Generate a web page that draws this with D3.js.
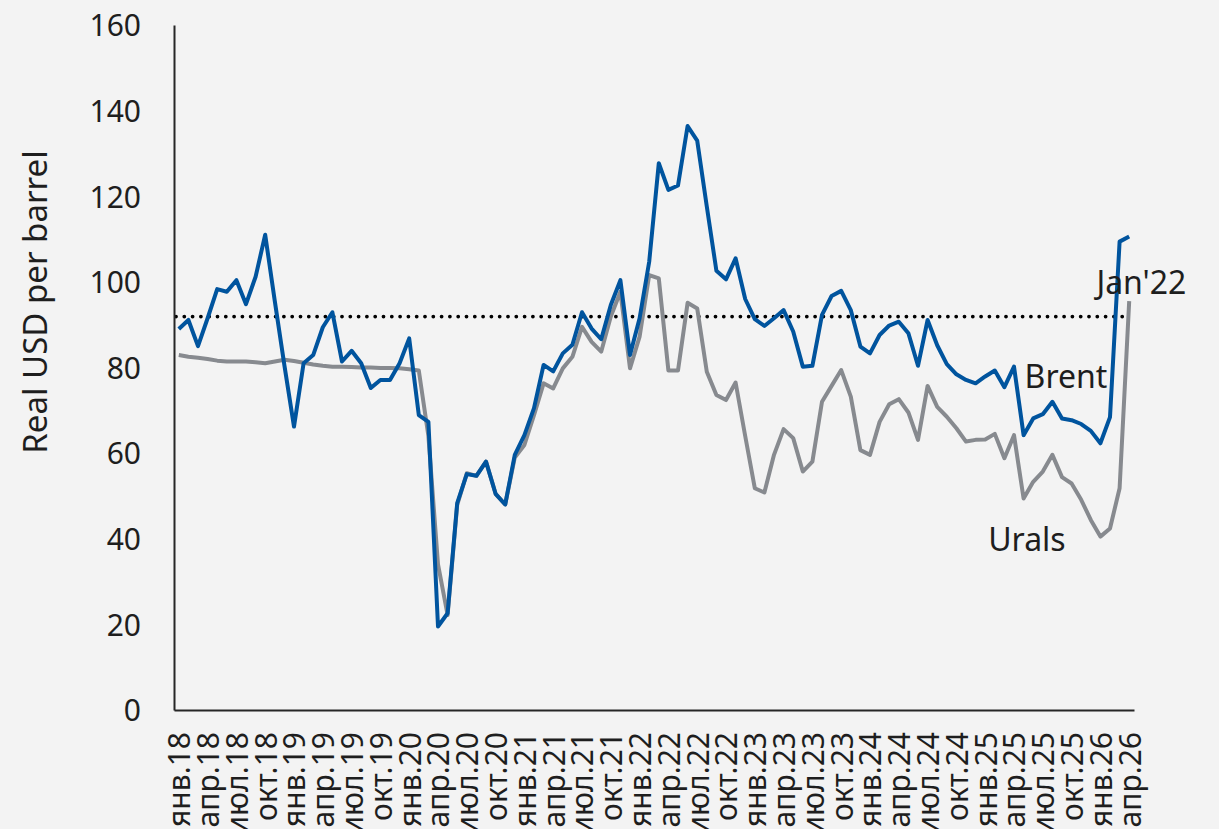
<!DOCTYPE html>
<html>
<head>
<meta charset="utf-8">
<title>Brent vs Urals</title>
<script src="https://cdn.jsdelivr.net/npm/d3@7"></script>
<style>
  body { margin: 0; background: #f3f3f3; }
  svg { display: block; background: #f3f3f3; }
  text { font-family: "Noto Sans", "Open Sans", sans-serif; fill: #1e1e1e; }
</style>
</head>
<body>
<script>
// monthly, янв.18 .. апр.26
var tickLabels = ["янв.18","апр.18","июл.18","окт.18","янв.19","апр.19","июл.19","окт.19",
  "янв.20","апр.20","июл.20","окт.20","янв.21","апр.21","июл.21","окт.21",
  "янв.22","апр.22","июл.22","окт.22","янв.23","апр.23","июл.23","окт.23",
  "янв.24","апр.24","июл.24","окт.24","янв.25","апр.25","июл.25","окт.25",
  "янв.26","апр.26"];

var brent = [89.0, 91.1, 85.0, 91.5, 98.3, 97.7, 100.4, 94.8, 101.2, 111.0,
  95.5, 80.5, 66.2, 81.0, 82.9, 89.4, 92.9, 81.4, 83.9, 81.0,
  75.2, 77.1, 77.1, 81.0, 86.8, 68.9, 67.3, 19.5, 22.6, 48.3,
  55.1, 54.7, 58.0, 50.5, 48.0, 59.6, 64.2, 70.5, 80.6, 79.1,
  83.3, 85.3, 92.9, 89.1, 86.6, 94.6, 100.4, 82.9, 91.5, 104.7,
  127.7, 121.5, 122.5, 136.4, 133.0, 117.6, 102.6, 100.6, 105.5, 96.0,
  91.3, 89.7, 91.5, 93.4, 88.4, 80.2, 80.4, 92.3, 96.7, 97.9,
  93.4, 84.9, 83.3, 87.6, 89.8, 90.7, 88.0, 80.4, 91.1, 85.2,
  80.8, 78.4, 77.1, 76.3, 77.9, 79.3, 75.4, 80.2, 64.2, 68.1,
  69.1, 72.0, 68.1, 67.7, 66.8, 65.2, 62.3, 68.4, 109.4, 110.6];

var urals = [82.9, 82.5, 82.3, 82.0, 81.6, 81.4, 81.4, 81.4, 81.2, 81.0,
  81.4, 81.8, 81.5, 81.1, 80.7, 80.4, 80.2, 80.2, 80.1, 80.0,
  80.0, 79.9, 79.9, 79.8, 79.6, 79.3, 64.0, 34.0, 22.2, 47.9,
  55.3, 54.7, 58.0, 50.5, 48.0, 59.0, 61.9, 68.9, 76.3, 75.1,
  79.8, 82.5, 89.5, 86.0, 83.7, 91.9, 97.7, 79.8, 87.2, 101.6,
  100.8, 79.3, 79.3, 95.1, 93.8, 79.0, 73.6, 72.4, 76.5, 64.0,
  51.8, 50.8, 59.6, 65.6, 63.5, 55.7, 58.0, 72.0, 75.7, 79.4,
  73.2, 60.7, 59.6, 67.3, 71.4, 72.6, 69.5, 63.1, 75.7, 70.8,
  68.5, 65.8, 62.7, 63.1, 63.2, 64.5, 58.8, 64.2, 49.4, 53.3,
  55.7, 59.6, 54.4, 52.9, 49.1, 44.4, 40.5, 42.4, 51.8, 95.5];

var jan22 = 91.9;   // reference level (dotted)
var yTicks = [0, 20, 40, 60, 80, 100, 120, 140, 160];

var w = 1219, h = 829;
var padL = 174, padR = 1134, padT = 25, padB = 710;

var svg = d3.select("body").append("svg")
  .attr("width", w)
  .attr("height", h);

var idx = d3.range(brent.length);
var x = d3.scalePoint().domain(idx).range([padL, padR]).padding(0.5);
var y = d3.scaleLinear().domain([0, 160]).range([padB, padT]);

var line = function(arr) {
  return d3.line().x(function(d, i) { return x(i); }).y(function(d) { return y(d); })(arr);
};

// dotted Jan'22 level
svg.append("line")
  .attr("x1", padL + 2).attr("x2", x(idx[idx.length - 1]) + 1)
  .attr("y1", y(jan22)).attr("y2", y(jan22))
  .attr("stroke", "#000")
  .attr("stroke-width", 3.8)
  .attr("stroke-linecap", "round")
  .attr("stroke-dasharray", "0 8.3");

svg.append("path")
  .attr("d", line(urals))
  .attr("fill", "none")
  .attr("stroke", "#878a8f")
  .attr("stroke-width", 4)
  .attr("stroke-linejoin", "round");

svg.append("path")
  .attr("d", line(brent))
  .attr("fill", "none")
  .attr("stroke", "#00549e")
  .attr("stroke-width", 4)
  .attr("stroke-linejoin", "round");

// axes
var yAxis = svg.append("g")
  .attr("transform", "translate(" + padL + ",0)")
  .call(d3.axisLeft(y).tickValues(yTicks).tickSize(0).tickPadding(33));
yAxis.selectAll("text").style("font-size", "30px").attr("dy", "0.36em");

var xAxis = svg.append("g")
  .attr("transform", "translate(0," + padB + ")")
  .call(d3.axisBottom(x)
    .tickValues(idx.filter(function(i) { return i % 3 == 0; }))
    .tickSize(0)
    .tickFormat(function(i) { return tickLabels[i / 3]; }));
xAxis.selectAll("text")
  .style("font-size", "30px")
  .attr("text-anchor", "end")
  .attr("transform", "rotate(-90)")
  .attr("x", -22)
  .attr("y", 0)
  .attr("dy", "0.36em");

svg.selectAll(".domain")
  .attr("stroke", "#262626")
  .attr("stroke-width", 2);

// y title
svg.append("text")
  .attr("transform", "translate(47,302) rotate(-90)")
  .attr("text-anchor", "middle")
  .style("font-size", "33px")
  .text("Real USD per barrel");

// series labels
svg.append("text").attr("x", x(96) - 4).attr("y", y(97.2))
  .style("font-size", "32px").text("Jan'22");
svg.append("text").attr("x", x(88) + 1).attr("y", y(75.2))
  .style("font-size", "32px").text("Brent");
svg.append("text").attr("x", x(84) + 3).attr("y", y(37.1))
  .style("font-size", "32px").text("Urals");
</script>
</body>
</html>
